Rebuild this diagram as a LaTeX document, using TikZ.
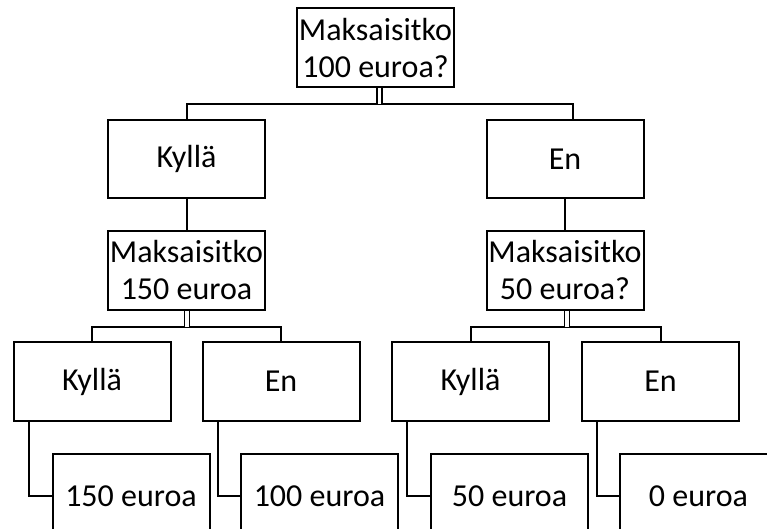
\documentclass[tikz,border=0pt]{standalone}
\usepackage{fontspec}
\setmainfont{Carlito}
\usepackage{tikz}
\usetikzlibrary{calc}

\tikzset{
	box/.style={draw, line width=2pt, inner sep=0pt, minimum width=157pt, minimum height=79pt, align=center, font=\fontsize{32pt}{37pt}\selectfont},
	leaf/.style={box, minimum height=84pt},
	link/.style={line width=2pt},
	twin/.style={line width=1.6pt, double, double distance=3.6pt}
}

\begin{document}
\begin{tikzpicture}[x=1pt, y=-1pt]
			\useasboundingbox (0,0) rectangle (767,529);
			\clip (0,0) rectangle (767,529);
			% question boxes
			\node[box] (q0) at (375.5,48) {Maksaisitko\\100 euroa?};
			\node[box] (q1) at (186.5,270.5) {Maksaisitko\\150 euroa};
			\node[box] (q2) at (565,270.5) {Maksaisitko\\50 euroa?};
			% answers
			\node[box, minimum height=78pt] (k1) at (186.5,159) {Kyllä};
			\node[box, minimum height=78pt] (e1) at (565,159) {En};
			\node[box] (k2) at (92,381.5) {Kyllä};
			\node[box] (e2) at (281,381.5) {En};
			\node[box] (k3) at (470.5,381.5) {Kyllä};
			\node[box] (e3) at (660.5,381.5) {En};
			% amounts
			\node[leaf, anchor=north] (l1) at (131,453) {150 euroa};
			\node[leaf, anchor=north] (l2) at (319.5,453) {100 euroa};
			\node[leaf, anchor=north] (l3) at (509.5,453) {50 euroa};
			\node[leaf, anchor=north] (l4) at (698.5,453) {0 euroa};
			% buses
			\coordinate (b0) at ($(q0.south)+(4,16)$);
			\draw[link] (k1.north) |- (b0) -| ([xshift=8pt]e1.north);
			\draw[twin] ([xshift=4pt]q0.south) -- (b0);
			\coordinate (b1) at ($(q1.south)+(0.5,16)$);
			\draw[link] (k2.north) |- (b1) -| (e2.north);
			\draw[twin] (q1.south -| b1) -- (b1);
			\coordinate (b2) at ($(q2.south)+(2,16)$);
			\draw[link] (k3.north) |- (b2) -| (e3.north);
			\draw[twin] (q2.south -| b2) -- (b2);
			% straight links
			\draw[link] (k1) -- (q1);
			\draw[link] (e1) -- (q2);
			% elbows
			\foreach \a/\b in {k2/l1, e2/l2, k3/l3, e3/l4}{
				\draw[link] ([xshift=16pt]\a.south west) |- (\b.west);
			}
		\end{tikzpicture}
\end{document}
